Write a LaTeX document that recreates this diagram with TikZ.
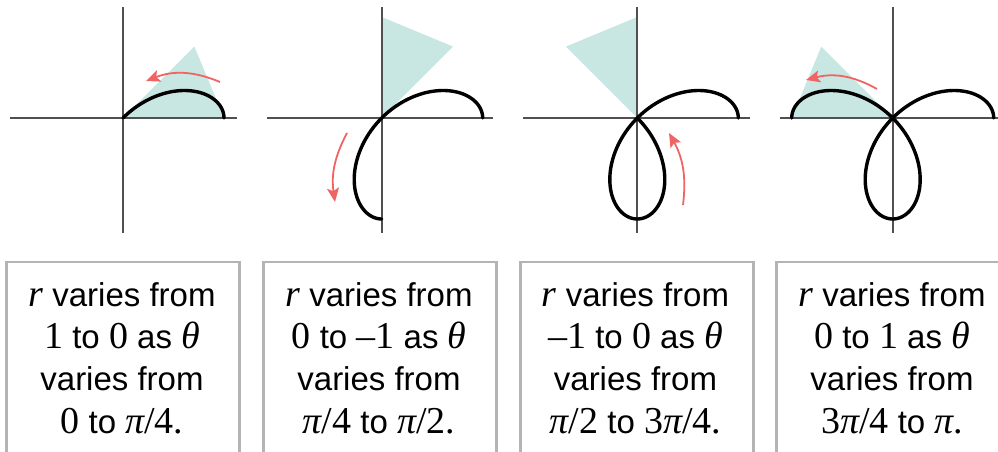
\documentclass[tikz,border=0pt]{standalone}
\usepackage{fontspec}
\setmainfont{Liberation Sans}
\newfontfamily\tmsfont{Liberation Serif}
\usetikzlibrary{arrows.meta}
\definecolor{wedge}{RGB}{200,230,226}
\definecolor{axisgray}{RGB}{80,80,80}
\definecolor{arrowred}{RGB}{240,100,100}
\definecolor{boxgray}{RGB}{180,180,180}
\newcommand\serup[1]{{\tmsfont\fontsize{38}{38}\selectfont #1}}
\newcommand\serit[1]{{\tmsfont\itshape\fontsize{38}{38}\selectfont #1}}
\begin{document}
\begin{tikzpicture}[x=1pt,y=1pt,
  axis/.style={draw=axisgray, line width=2.2pt},
  curve/.style={draw=black, line width=3.4pt, line join=round, line cap=round},
  wedgefill/.style={fill=wedge, draw=none},
  motion/.style={draw=arrowred, line width=1.8pt, -{Stealth[length=14pt,width=12pt,inset=3pt]}},
  infobox/.style={draw=boxgray, line width=2.5pt, minimum width=233pt, minimum height=220pt, anchor=north west, inner sep=0pt},
  txt/.style={anchor=base, inner sep=0pt, font=\fontsize{33}{33}\selectfont}]
\useasboundingbox (0,0) rectangle (998,452);
\clip (0,0) rectangle (998,452);

% panel 1
\begin{scope}[shift={(123,334)}]
  \fill[wedgefill] (0,0) -- (0:101) -- (45:101) -- cycle;
  \draw[axis] (-113,0) -- (114,0);
  \draw[axis] (0,111) -- (0,-115);
  \draw[curve] plot[domain=0:45, samples=80, smooth, variable=\t] ({101*cos(2*\t)*cos(\t)},{101*cos(2*\t)*sin(\t)});
\end{scope}
% panel 2
\begin{scope}[shift={(381.7,334)}]
  \fill[wedgefill] (0,0) -- (45:101) -- (90:101) -- cycle;
  \draw[axis] (-114.7,0) -- (111.3,0);
  \draw[axis] (0,111) -- (0,-115);
  \draw[curve] plot[domain=0:90, samples=120, smooth, variable=\t] ({101*cos(2*\t)*cos(\t)},{101*cos(2*\t)*sin(\t)});
\end{scope}
% panel 3
\begin{scope}[shift={(637.3,334)}]
  \fill[wedgefill] (0,0) -- (90:101) -- (135:101) -- cycle;
  \draw[axis] (-114.3,0) -- (112.7,0);
  \draw[axis] (0,111) -- (0,-115);
  \draw[curve] plot[domain=0:135, samples=160, smooth, variable=\t] ({101*cos(2*\t)*cos(\t)},{101*cos(2*\t)*sin(\t)});
\end{scope}
% panel 4
\begin{scope}[shift={(892.7,334)}]
  \fill[wedgefill] (0,0) -- (135:101) -- (180:101) -- cycle;
  \draw[axis] (-112.7,0) -- (110,0);
  \draw[axis] (0,111) -- (0,-115);
  \draw[curve] plot[domain=0:180, samples=200, smooth, variable=\t] ({101*cos(2*\t)*cos(\t)},{101*cos(2*\t)*sin(\t)});
\end{scope}

% motion arrows
\coordinate (a1s) at (220,370);
\coordinate (a1e) at (146,371);
\draw[motion] (a1s) to[bend right=22] (a1e);
\coordinate (a2s) at (347,319);
\coordinate (a2e) at (335,250);
\draw[motion] (a2s) to[bend right=18] (a2e);
\coordinate (a3s) at (683,247);
\coordinate (a3e) at (669,319);
\draw[motion] (a3s) to[bend right=18] (a3e);
\coordinate (a4s) at (877,363);
\coordinate (a4e) at (806,372);
\draw[motion] (a4s) to[bend right=22] (a4e);

% boxes
\node[infobox] (box1) at (5,191) {};
\node[infobox] (box2) at (262,191) {};
\node[infobox] (box3) at (519,191) {};
\node[infobox] (box4) at (775,191) {};

% texts
\node[txt] (t11) at (122,145.5) {\serit{r} varies from};
\node[txt] (t12) at (122,103) {\serup{1} to \serup{0} as \serit{θ}};
\node[txt] (t13) at (122,61) {varies from};
\node[txt] (t14) at (122,18.5) {\serup{0} to \serit{π}\serup{/4.}};

\node[txt] (t21) at (379,145.5) {\serit{r} varies from};
\node[txt] (t22) at (379,103) {\serup{0} to \serup{–1} as \serit{θ}};
\node[txt] (t23) at (379,61) {varies from};
\node[txt] (t24) at (379,18.5) {\serit{π}\serup{/4} to \serit{π}\serup{/2.}};

\node[txt] (t31) at (635.5,145.5) {\serit{r} varies from};
\node[txt] (t32) at (635.5,103) {\serup{–1} to \serup{0} as \serit{θ}};
\node[txt] (t33) at (635.5,61) {varies from};
\node[txt] (t34) at (635.5,18.5) {\serit{π}\serup{/2} to \serup{3}\serit{π}\serup{/4.}};

\node[txt] (t41) at (892,145.5) {\serit{r} varies from};
\node[txt] (t42) at (892,103) {\serup{0} to \serup{1} as \serit{θ}};
\node[txt] (t43) at (892,61) {varies from};
\node[txt] (t44) at (892,18.5) {\serup{3}\serit{π}\serup{/4} to \serit{π}\serup{.}};
\end{tikzpicture}
\end{document}
